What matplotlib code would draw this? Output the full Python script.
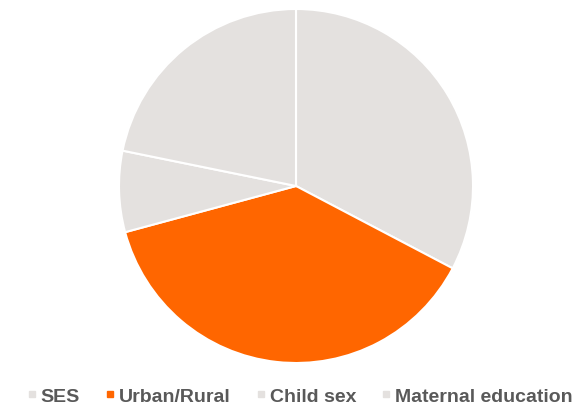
import matplotlib
matplotlib.use("Agg")
import matplotlib.pyplot as plt
from matplotlib.lines import Line2D

categories = ["SES", "Urban/Rural", "Child sex", "Maternal education"]
values = [32.7, 38.1, 7.4, 21.8]
colors = ["#E4E1DF", "#FF6600", "#E4E1DF", "#E4E1DF"]

plt.rcParams['font.family'] = ['Liberation Sans', 'DejaVu Sans']

fig = plt.figure(figsize=(5.77, 4.06), dpi=100)
W, H = 577, 406
cx, cy, r = 296, 187, 177
ax = fig.add_axes([(cx - r) / W, (H - cy - r) / H, 2 * r / W, 2 * r / H])
ax.pie(values, colors=colors, startangle=90, counterclock=False,
       wedgeprops=dict(edgecolor="white", linewidth=1.5))
ax.set_xlim(-1, 1)
ax.set_ylim(-1, 1)
ax.set_aspect("equal")
ax.axis("off")

handles = [Line2D([0], [0], marker="s", linestyle="none", markersize=4.5,
                  markerfacecolor=c, markeredgecolor=c) for c in colors]
fig.legend(handles, categories, loc="center", bbox_to_anchor=(0.519, 1 - 397 / H),
           ncol=4, frameon=False, handletextpad=0.15, columnspacing=1.25,
           handlelength=0.6, borderpad=0, prop=dict(size=14, weight="bold"),
           labelcolor="#595959")

fig.savefig("out.png", dpi=100)
